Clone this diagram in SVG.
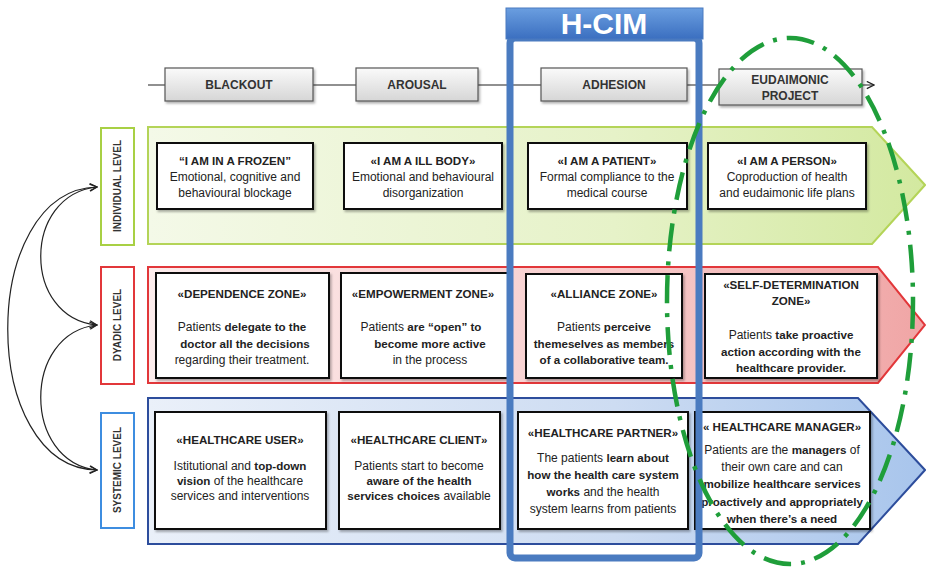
<svg xmlns="http://www.w3.org/2000/svg" width="926" height="571" viewBox="0 0 926 571">
<defs>
<style>
text{font-family:"Liberation Sans",Arial,sans-serif;fill:#222}
.t{font-size:12px;text-anchor:middle}
.b{font-weight:bold;font-size:11.6px}
.box{fill:#fff;stroke:#111;stroke-width:2}
.hdr{fill:url(#gHdr);stroke:#555;stroke-width:1.2}
.ht{font-size:12px;font-weight:bold;text-anchor:middle;fill:#333}
.lbl{font-size:10px;font-weight:bold;text-anchor:middle;fill:#333}
.conn{fill:none;stroke:#222;stroke-width:1.2}
</style>
<linearGradient id="gHdr" x1="0" y1="0" x2="0" y2="1"><stop offset="0" stop-color="#fafafa"/><stop offset="1" stop-color="#d6d6d6"/></linearGradient>
<linearGradient id="gG" x1="0" y1="0" x2="1" y2="0"><stop offset="0" stop-color="#f4f9e8"/><stop offset="0.6" stop-color="#e6f2c8"/><stop offset="1" stop-color="#d3e9a0"/></linearGradient>
<linearGradient id="gR" x1="0" y1="0" x2="1" y2="0"><stop offset="0" stop-color="#fcecec"/><stop offset="0.6" stop-color="#f7cdcd"/><stop offset="1" stop-color="#f0a5a5"/></linearGradient>
<linearGradient id="gB" x1="0" y1="0" x2="1" y2="0"><stop offset="0" stop-color="#eaf0f9"/><stop offset="0.6" stop-color="#cddcf2"/><stop offset="1" stop-color="#a8c5ec"/></linearGradient>
<linearGradient id="gH" x1="0" y1="0" x2="0" y2="1"><stop offset="0" stop-color="#6a9ee0"/><stop offset="1" stop-color="#3b6fc0"/></linearGradient>
<filter id="sh" x="-10%" y="-10%" width="120%" height="130%"><feDropShadow dx="1.5" dy="2" stdDeviation="1.2" flood-color="#000" flood-opacity="0.3"/></filter>
<marker id="arr" viewBox="0 0 10 10" refX="9" refY="5" markerWidth="9" markerHeight="9" markerUnits="userSpaceOnUse" orient="auto-start-reverse"><path d="M1,1 L9,5 L1,9" fill="none" stroke="#222" stroke-width="1.4"/></marker>
</defs>
<rect width="926" height="571" fill="#fff"/>

<!-- row backgrounds -->
<g id="row-individual">
<path d="M148,127 H872 L925,185 L872,244 H148 Z" fill="url(#gG)" stroke="#b4d458" stroke-width="2"/>
</g>
<g id="row-dyadic">
<path d="M148,267 H878 L925,325 L878,383 H148 Z" fill="url(#gR)" stroke="#e2373a" stroke-width="2"/>
</g>
<g id="row-systemic">
<path d="M148,398 H858 L925,470 L858,544 H148 Z" fill="url(#gB)" stroke="#2d4d9c" stroke-width="2"/>
</g>

<!-- level labels -->
<g id="lbl-individual"><rect x="101" y="128" width="33" height="117" fill="#fff" stroke="#a8d044" stroke-width="2"/><text class="lbl" transform="translate(121,186) rotate(-90)">INDIVIDUAL LEVEL</text></g>
<g id="lbl-dyadic"><rect x="101" y="267" width="33" height="117" fill="#fff" stroke="#e2373a" stroke-width="2"/><text class="lbl" transform="translate(121,325) rotate(-90)">DYADIC LEVEL</text></g>
<g id="lbl-systemic"><rect x="101" y="413" width="33" height="115" fill="#fff" stroke="#3d8de0" stroke-width="2"/><text class="lbl" transform="translate(121,470) rotate(-90)">SYSTEMIC LEVEL</text></g>

<!-- connectors -->
<g id="connectors">
<line x1="148" y1="85" x2="874" y2="85" class="conn" marker-end="url(#arr)"/>
<path class="conn" d="M97,187 C-22,190 -22,468 97,470" marker-start="url(#arr)" marker-end="url(#arr)"/>
<path class="conn" d="M97,187 C22,195 22,318 97,325" marker-start="url(#arr)" marker-end="url(#arr)"/>
<path class="conn" d="M97,325 C22,333 22,462 97,470" marker-start="url(#arr)" marker-end="url(#arr)"/>
</g>

<!-- phase headers -->
<g id="h-blackout"><rect class="hdr" x="165" y="68" width="148" height="33" filter="url(#sh)"/><text class="ht" x="239" y="89">BLACKOUT</text></g>
<g id="h-arousal"><rect class="hdr" x="356" y="68" width="122" height="33" filter="url(#sh)"/><text class="ht" x="417" y="89">AROUSAL</text></g>
<g id="h-adhesion"><rect class="hdr" x="541" y="68" width="146" height="33" filter="url(#sh)"/><text class="ht" x="614" y="89">ADHESION</text></g>
<g id="h-eudaimonic"><rect class="hdr" x="719" y="69" width="143" height="36" filter="url(#sh)"/><text class="ht" x="790" y="84">EUDAIMONIC</text><text class="ht" x="790" y="100">PROJECT</text></g>

<!-- row 1 -->
<g id="n-frozen"><rect class="box" x="157" y="143" width="156" height="66" filter="url(#sh)"/>
<text class="t b" x="235" y="165">“I AM IN A FROZEN”</text><text class="t" x="235" y="181">Emotional, cognitive and</text><text class="t" x="235" y="197">behavioural blockage</text></g>
<g id="n-illbody"><rect class="box" x="344" y="143" width="158" height="66" filter="url(#sh)"/>
<text class="t b" x="423" y="165">«I AM A ILL BODY»</text><text class="t" x="423" y="181">Emotional and behavioural</text><text class="t" x="423" y="197">disorganization</text></g>
<g id="n-patient"><rect class="box" x="528" y="143" width="159" height="66" filter="url(#sh)"/>
<text class="t b" x="607" y="165">«I AM A PATIENT»</text><text class="t" x="607" y="181">Formal compliance to the</text><text class="t" x="607" y="197">medical course</text></g>
<g id="n-person"><rect class="box" x="708" y="143" width="158" height="66" filter="url(#sh)"/>
<text class="t b" x="787" y="165">«I AM A PERSON»</text><text class="t" x="787" y="181">Coproduction of health</text><text class="t" x="787" y="197">and eudaimonic life plans</text></g>

<!-- row 2 -->
<g id="n-dependence"><rect class="box" x="156" y="273" width="173" height="105" filter="url(#sh)"/>
<text class="t b" x="242" y="298">«DEPENDENCE ZONE»</text>
<text class="t" x="242" y="331">Patients <tspan class="b">delegate to the</tspan></text>
<text class="t b" x="245" y="348">doctor all the decisions</text>
<text class="t" x="242" y="364">regarding  their treatment.</text></g>
<g id="n-empowerment"><rect class="box" x="341" y="273" width="167" height="105" filter="url(#sh)"/>
<text class="t b" x="423" y="298">«EMPOWERMENT ZONE»</text>
<text class="t" x="421" y="331">Patients <tspan class="b">are “open” to</tspan></text>
<text class="t b" x="430" y="348">become more active</text>
<text class="t" x="430" y="364">in the process</text></g>
<g id="n-alliance"><rect class="box" x="526" y="274" width="156" height="104" filter="url(#sh)"/>
<text class="t b" x="604" y="298">«ALLIANCE ZONE»</text>
<text class="t" x="604" y="331">Patients <tspan class="b">perceive</tspan></text>
<text class="t b" x="604" y="348">themeselves as members</text>
<text class="t b" x="604" y="364">of a collaborative team.</text></g>
<g id="n-selfdetermination"><rect class="box" x="705" y="274" width="172" height="104" filter="url(#sh)"/>
<text class="t b" x="791" y="289">«SELF-DETERMINATION</text>
<text class="t b" x="791" y="305">ZONE»</text>
<text class="t" x="791" y="339">Patients  <tspan class="b">take proactive</tspan></text>
<text class="t b" x="791" y="356">action according with the</text>
<text class="t b" x="791" y="372">healthcare provider.</text></g>

<!-- row 3 -->
<g id="n-user"><rect class="box" x="155" y="412" width="171" height="117" filter="url(#sh)"/>
<text class="t b" x="240" y="444">«HEALTHCARE USER»</text>
<text class="t" x="240" y="470">Istitutional and <tspan class="b">top-down</tspan></text>
<text class="t" x="240" y="485"><tspan class="b">vision</tspan> of the healthcare</text>
<text class="t" x="240" y="500">services and interventions</text></g>
<g id="n-client"><rect class="box" x="339" y="412" width="161" height="117" filter="url(#sh)"/>
<text class="t b" x="419" y="444">«HEALTHCARE CLIENT»</text>
<text class="t" x="419" y="470">Patients start to become</text>
<text class="t b" x="419" y="485">aware of the health</text>
<text class="t" x="419" y="500"><tspan class="b">services choices</tspan> available</text></g>
<g id="n-partner"><rect class="box" x="518" y="412" width="170" height="117" filter="url(#sh)"/>
<text class="t b" x="603" y="437">«HEALTHCARE PARTNER»</text>
<text class="t" x="603" y="462">The patients <tspan class="b">learn about</tspan></text>
<text class="t b" x="603" y="479">how the health care system</text>
<text class="t" x="603" y="496"><tspan class="b">works</tspan> and the health</text>
<text class="t" x="603" y="513">system learns from patients</text></g>
<g id="n-manager"><rect class="box" x="695" y="412" width="175" height="117" filter="url(#sh)"/>
<text class="t b" x="782" y="431">« HEALTHCARE MANAGER»</text>
<text class="t" x="782" y="454">Patients are the <tspan class="b">managers</tspan> of</text>
<text class="t" x="782" y="471">their own care and can</text>
<text class="t b" x="782" y="488">mobilize healthcare services</text>
<text class="t b" x="782" y="506">proactively and appropriately</text>
<text class="t b" x="782" y="523">when there’s a  need</text></g>

<!-- H-CIM frame -->
<g id="hcim">
<rect x="510" y="38" width="189" height="520" rx="5" fill="none" stroke="#4a7bc0" stroke-width="7"/>
<rect x="506" y="8" width="197" height="31" fill="url(#gH)" stroke="#4a7bc0" stroke-width="1"/>
<text x="604" y="34" text-anchor="middle" style="font-size:30px;font-weight:bold;fill:#fff">H-CIM</text>
</g>

<!-- eudaimonic ellipse -->
<g id="eudaimonic-ellipse">
<ellipse cx="790" cy="301" rx="123" ry="263" fill="none" stroke="#1f9e3a" stroke-width="4.5" stroke-dasharray="28 10 4 10"/>
</g>
</svg>
